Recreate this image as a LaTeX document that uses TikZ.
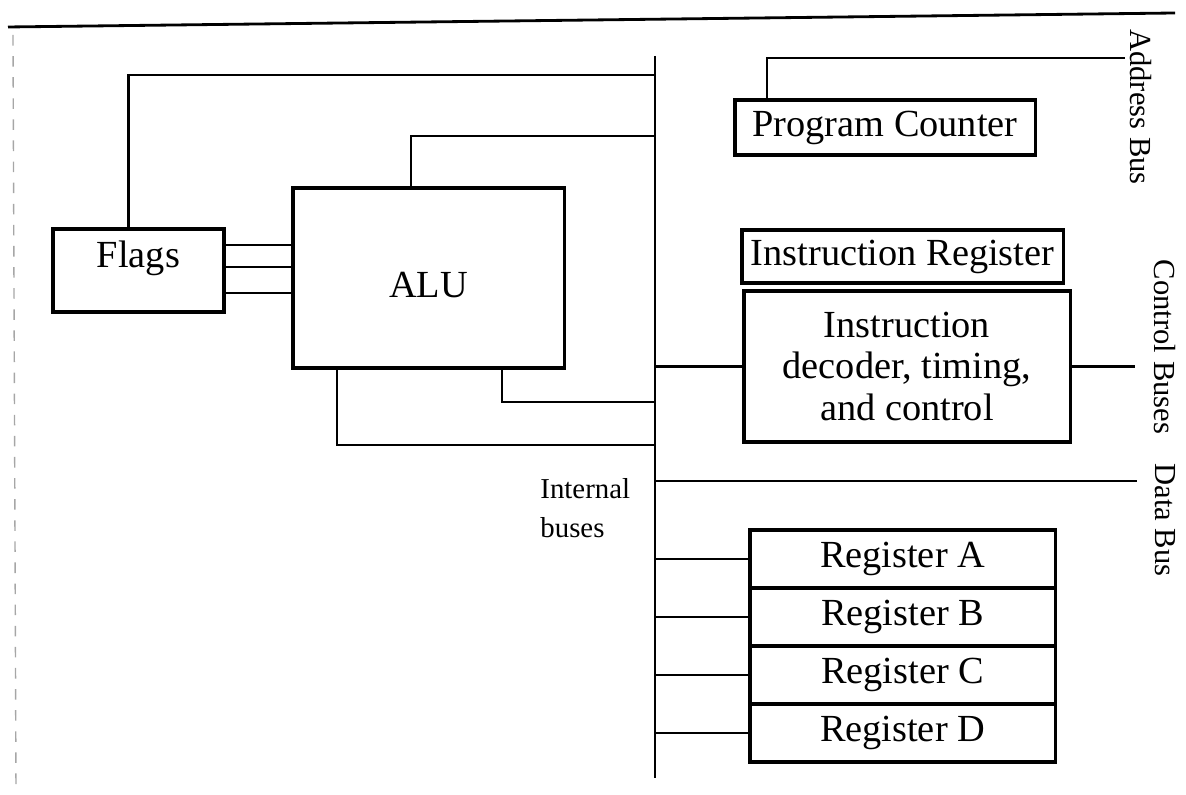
\documentclass[tikz,border=0pt]{standalone}
\usepackage{fontspec}
\setmainfont{Liberation Serif}

\begin{document}
\begin{tikzpicture}[x=0.01cm, y=-0.01cm, line width=0.8pt]
		\tikzset{bx/.style={draw=black, rectangle, line width=0.9pt, inner sep=0pt, font=\fontsize{10.9}{11.7}\selectfont}};
		\tikzset{lbl/.style={inner sep=0pt, font=\fontsize{8.7}{10}\selectfont}};
		\useasboundingbox (0,0) rectangle (1186,795);

		% scan edges
		\draw (8,27) -- (1175,13);
		\draw[gray!70, line width=0.4pt, dash pattern=on 3pt off 3pt] (13,35) -- (16,790);

		\node[bx, minimum width=1.71cm, minimum height=0.83cm, text depth=0.32cm] (flags) at (138.5, 270.5) {Flags};
		\node[bx, minimum width=2.71cm, minimum height=1.80cm, text height=0.39cm] (alu) at (428.5, 278) {ALU};
		\node[bx, minimum width=3.00cm, minimum height=0.55cm] (pc) at (885, 127.5) {Program Counter};
		\node[bx, minimum width=3.21cm, minimum height=0.53cm] (ir) at (902.5, 256.5) {Instruction Register};
		\node[bx, minimum width=3.26cm, minimum height=1.51cm, align=center] (dec) at (907, 366.5) {Instruction\\decoder, timing,\\and control};
		\node[bx, minimum width=3.05cm, minimum height=0.58cm] (ra) at (902.5, 559) {Register A};
		\node[bx, minimum width=3.05cm, minimum height=0.58cm] (rb) at (902.5, 617) {Register B};
		\node[bx, minimum width=3.05cm, minimum height=0.58cm] (rc) at (902.5, 675) {Register C};
		\node[bx, minimum width=3.05cm, minimum height=0.58cm] (rd) at (902.5, 733) {Register D};

		\coordinate (bt) at (655, 56);
		\coordinate (bb) at (655, 778);
		\coordinate (ab) at (1125, 58);
		\coordinate (cb) at (1135, 355);
		\coordinate (db) at (1137, 481);

		\node[lbl, rotate=-90] (addr) at (1141, 107) {Address Bus};
		\node[lbl, rotate=-90] (ctrl) at (1165, 347) {Control Buses};
		\node[lbl, rotate=-90] (data) at (1165, 520) {Data Bus};
		\node[lbl, anchor=west, align=left, font=\fontsize{8.2}{11}\selectfont] (intb) at (539, 508) {Internal\\buses};

		% internal bus
		\draw (bt) -- (bb);

		\draw ([xshift=-0.1cm]flags.north) |- (bt |- 0,75);
		\draw ([xshift=-0.175cm]alu.north) |- (bt |- 0,136);
		\foreach \y in {245,267,293}
			\draw (flags.east |- 0,\y) -- (alu.west |- 0,\y);
		\draw ([xshift=-0.915cm]alu.south) |- (bt |- 0,445);
		\draw ([xshift=0.735cm]alu.south) |- (bt |- 0,402);

		\draw ([xshift=-1.18cm]pc.north) |- (ab);
		\draw (bt |- dec.west) -- (dec.west);
		\draw (dec.east) -- (cb |- dec.east);
		\draw (bt |- db) -- (db);

		\foreach \r in {ra,rb,rc,rd}
			\draw (bt |- \r.west) -- (\r.west);

	\end{tikzpicture}
\end{document}
